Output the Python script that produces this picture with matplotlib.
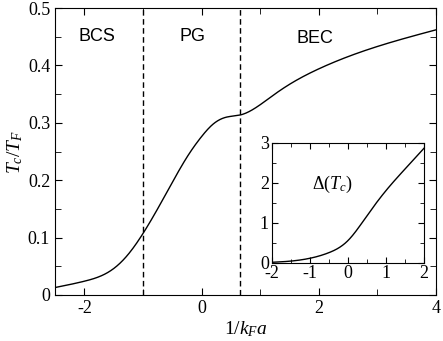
import numpy as np
import matplotlib.pyplot as plt
from matplotlib.ticker import MultipleLocator

plt.rcParams['font.family'] = 'Liberation Serif'
plt.rcParams['mathtext.fontset'] = 'custom'
plt.rcParams['mathtext.rm'] = 'Liberation Serif'
plt.rcParams['mathtext.it'] = 'Liberation Serif:italic'
plt.rcParams['axes.unicode_minus'] = False

# main curve: Tc/TF vs 1/kFa
x_main = [-2.5, -2.0, -1.5, -1.25, -1.0, -0.75, -0.5, -0.25, 0.0, 0.2, 0.43,
          0.66, 0.95, 1.25, 1.5, 2.0, 3.0, 4.0]
tc_main = [0.013, 0.024, 0.046, 0.071, 0.107, 0.150, 0.196, 0.240, 0.276, 0.298, 0.310,
           0.3136, 0.328, 0.350, 0.367, 0.394, 0.433, 0.462]

# inset: gap at Tc
x_ins = [-2.0, -1.5, -1.0, -0.5, 0.0, 0.5, 1.0, 1.5, 2.0]
gap_ins = [0.01, 0.04, 0.11, 0.25, 0.55, 1.17, 1.80, 2.34, 2.86]

# region boundaries
x_bounds = [-1.0, 0.655]


def spline(x, y, n=500):
    # natural cubic spline through the read points
    x = np.asarray(x, float)
    y = np.asarray(y, float)
    N = len(x)
    h = np.diff(x)
    A = np.zeros((N, N))
    b = np.zeros(N)
    A[0, 0] = A[-1, -1] = 1
    for i in range(1, N - 1):
        A[i, i - 1] = h[i - 1]
        A[i, i] = 2 * (h[i - 1] + h[i])
        A[i, i + 1] = h[i]
        b[i] = 6 * ((y[i + 1] - y[i]) / h[i] - (y[i] - y[i - 1]) / h[i - 1])
    M = np.linalg.solve(A, b)
    xs = np.linspace(x[0], x[-1], n)
    k = np.clip(np.searchsorted(x, xs) - 1, 0, N - 2)
    t1 = x[k + 1] - xs
    t0 = xs - x[k]
    ys = (M[k] * t1**3 + M[k + 1] * t0**3) / (6 * h[k]) \
        + (y[k] / h[k] - M[k] * h[k] / 6) * t1 \
        + (y[k + 1] / h[k] - M[k + 1] * h[k] / 6) * t0
    return xs, ys


fig = plt.figure(figsize=(4.43, 3.41), dpi=100)
ax = fig.add_axes([0.1242, 0.1349, 0.86, 0.8416])

xs, ys = spline(x_main, tc_main)
ax.plot(xs, ys, color='black', lw=1.0)
for xb in x_bounds:
    ax.axvline(xb, color='black', lw=1.0, ls=(0, (4, 2.5)))

ax.set_xlim(-2.5, 4)
ax.set_ylim(0, 0.5)
ax.xaxis.set_major_locator(MultipleLocator(2))
ax.xaxis.set_minor_locator(MultipleLocator(1))
ax.yaxis.set_minor_locator(MultipleLocator(0.05))
ax.set_yticks([0, 0.1, 0.2, 0.3, 0.4, 0.5])
ax.set_yticklabels(['0', '0.1', '0.2', '0.3', '0.4', '0.5'])
ax.tick_params(which='both', direction='in', top=True, right=True, labelsize=13)
ax.tick_params(which='major', length=5)
ax.tick_params(which='minor', length=4)
ax.set_xlabel(r'$1/k_Fa$', fontsize=14, labelpad=2)
ax.set_ylabel(r'$T_c/T_F$', fontsize=14, labelpad=2)

txt = dict(family='Liberation Sans', fontsize=13, ha='center', va='center')
ax.text(-1.78, 0.451, 'BCS', **txt)
ax.text(-0.15, 0.451, 'PG', **txt)
ax.text(1.93, 0.447, 'BEC', **txt)

ins = fig.add_axes([0.6133, 0.2296, 0.3437, 0.3519])
xi, yi = spline(x_ins, gap_ins)
ins.plot(xi, yi, color='black', lw=1.0)
ins.set_xlim(-2, 2)
ins.set_ylim(0, 3)
ins.xaxis.set_major_locator(MultipleLocator(1))
ins.xaxis.set_minor_locator(MultipleLocator(0.5))
ins.yaxis.set_major_locator(MultipleLocator(1))
ins.yaxis.set_minor_locator(MultipleLocator(0.5))
ins.tick_params(which='both', direction='in', top=True, right=True, labelsize=13, pad=2)
ins.tick_params(which='major', length=4)
ins.tick_params(which='minor', length=3)
ins.text(-0.4, 1.95, r'$\Delta(T_c)$', fontsize=13, ha='center', va='center')

fig.savefig('out.png', dpi=100)
